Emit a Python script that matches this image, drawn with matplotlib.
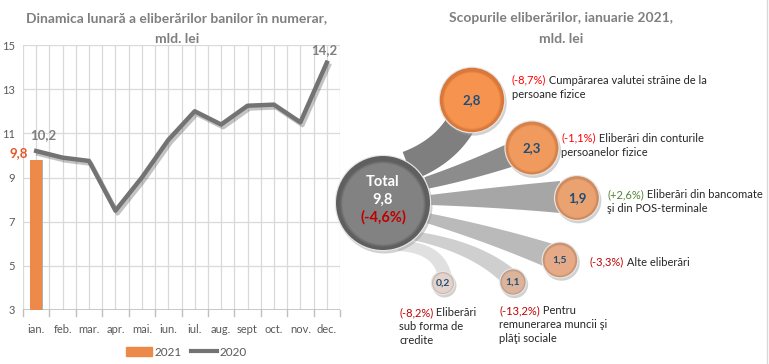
import numpy as np
import matplotlib
matplotlib.use('Agg')
import matplotlib.pyplot as plt
import matplotlib.patheffects as pe
from matplotlib.patches import Circle, Polygon, Rectangle
from matplotlib.lines import Line2D

plt.rcParams['font.family'] = ['Lato', 'DejaVu Sans']

# ---- data ----
months = ['ian.', 'feb.', 'mar.', 'apr.', 'mai.', 'iun.', 'iul.', 'aug.', 'sept', 'oct.', 'nov.', 'dec.']
y2020 = [10.2, 9.9, 9.75, 7.5, 9.0, 10.7, 12.0, 11.4, 12.25, 12.3, 11.5, 14.2]
y2021 = [9.8]

total_value = 9.8
total_change = '(-4,6%)'
purpose_values = [2.8, 2.3, 1.9, 1.5, 1.1, 0.2]
purpose_changes = ['(-8,7%)', '(-1,1%)', '(+2,6%)', '(-3,3%)', '(-13,2%)', '(-8,2%)']
purpose_names = ['Cumpărarea valutei străine de la\npersoane fizice',
                 'Eliberări din conturile\npersoanelor fizice',
                 'Eliberări din bancomate\nşi din POS-terminale',
                 'Alte eliberări',
                 'Pentru\nremunerarea muncii şi\nplăţi sociale',
                 'Eliberări\nsub forma de\ncredite']

W, H = 769, 364
fig = plt.figure(figsize=(W / 100, H / 100), dpi=100)
fig.patch.set_facecolor('white')

grey_txt = '#7f7f7f'
tick_txt = '#595959'

# ---- left chart ----
ax = fig.add_axes([23 / W, 1 - 310 / H, (340 - 23) / W, (310 - 45) / H])
x = np.arange(len(months))
ax.set_xlim(-0.5, len(months) - 0.5)
ax.set_ylim(3, 15)
for gx in np.arange(-0.5, len(months), 0.5):
    ax.axvline(gx, color='#d9d9d9', lw=0.9, zorder=0)
for gy in range(3, 16, 2):
    ax.axhline(gy, color='#d9d9d9', lw=0.9, zorder=0)
for s in ax.spines.values():
    s.set_visible(False)
ax.axhline(3, color='#bfbfbf', lw=1.2, zorder=1)

ax.bar(x[:len(y2021)] + 0.03, y2021, width=0.46, bottom=0, color='#b0b0b0', zorder=2)
ax.bar(x[:len(y2021)], y2021, width=0.44, color='#ed8a4a', zorder=3, label='2021')
ax.plot(x, y2020, color='#737373', lw=3.2, zorder=4, label='2020',
        path_effects=[pe.SimpleLineShadow(offset=(1.5, -2), alpha=0.35, shadow_color='#555555'), pe.Normal()])

ax.set_yticks(range(3, 16, 2))
ax.set_xticks(x)
ax.set_xticklabels(months)
ax.tick_params(axis='y', length=0, pad=6, labelsize=8, labelcolor=tick_txt)
ax.tick_params(axis='x', length=0, pad=10, labelsize=8, labelcolor=tick_txt)
for bx in np.arange(-0.5, len(months), 1):
    ax.plot([bx, bx], [3, 2.75], color='#bfbfbf', lw=1, clip_on=False)

ax.text(0.25, y2020[0] + 0.45, '10,2', color=grey_txt, fontsize=9.5, fontweight='bold',
        ha='center', va='bottom')
ax.text(-0.3, y2021[0] + 0.05, '9,8', color='#e05a2b', fontsize=9.5, fontweight='bold',
        ha='right', va='bottom')
ax.text(10.9, y2020[-1] + 0.3, '14,2', color=grey_txt, fontsize=9.5, fontweight='bold',
        ha='center', va='bottom')

fig.text(177 / W, 1 - 18 / H, 'Dinamica lunară a eliberărilor banilor în numerar,',
         ha='center', va='center', fontsize=10, fontweight='bold', color=grey_txt)
fig.text(177 / W, 1 - 39 / H, 'mld. lei', ha='center', va='center', fontsize=10,
         fontweight='bold', color=grey_txt)

handles = [Rectangle((0, 0), 1, 1, color='#ed8a4a'),
           Line2D([0], [0], color='#737373', lw=3)]
fig.legend(handles, ['2021', '2020'], loc='center', bbox_to_anchor=(186 / W, 1 - 352 / H),
           ncol=2, frameon=False, fontsize=8.5, handlelength=2.2, handletextpad=0.2,
           columnspacing=0.8, labelcolor=tick_txt)

# ---- right chart (pixel coordinates) ----
bx_ax = fig.add_axes([0, 0, 1, 1], zorder=5)
bx_ax.set_xlim(0, W)
bx_ax.set_ylim(H, 0)
bx_ax.axis('off')
bx_ax.patch.set_alpha(0)

fig.text(561 / W, 1 - 18 / H, 'Scopurile eliberărilor, ianuarie 2021,', ha='center',
         va='center', fontsize=10, fontweight='bold', color=grey_txt)
fig.text(561 / W, 1 - 39 / H, 'mld. lei', ha='center', va='center', fontsize=10,
         fontweight='bold', color=grey_txt)


def band(p0, pc, p1, w0, w1, color):
    t = np.linspace(0, 1, 60)[:, None]
    p0, pc, p1 = map(np.array, (p0, pc, p1))
    pts = (1 - t) ** 2 * p0 + 2 * (1 - t) * t * pc + t ** 2 * p1
    d = 2 * (1 - t) * (pc - p0) + 2 * t * (p1 - pc)
    n = np.column_stack([-d[:, 1], d[:, 0]])
    n /= np.linalg.norm(n, axis=1)[:, None]
    w = (w0 + (w1 - w0) * t) / 2
    poly = np.vstack([pts + n * w, (pts - n * w)[::-1]])
    bx_ax.add_patch(Polygon(poly, closed=True, color=color, lw=0, zorder=1))


def bubble(cx, cy, r, base, edge, zorder=3):
    bx_ax.add_patch(Circle((cx + 1.5, cy + 2.5), r + 1, color='#9a9a9a', alpha=0.45, lw=0, zorder=zorder))
    bx_ax.add_patch(Circle((cx, cy), r + 1.2, color='#e6e6e6', lw=0, zorder=zorder))
    bx_ax.add_patch(Circle((cx, cy), r, color=edge, lw=0, zorder=zorder))
    base_rgb = np.array(matplotlib.colors.to_rgb(base))
    edge_rgb = np.array(matplotlib.colors.to_rgb(edge))
    for f in np.linspace(0.93, 0.86, 5):
        k = (0.93 - f) / 0.07
        c = edge_rgb + (base_rgb - edge_rgb) * k
        bx_ax.add_patch(Circle((cx, cy + r * 0.02), r * f, color=np.clip(c, 0, 1), lw=0, zorder=zorder))


# total bubble
tcx, tcy, tr = 383, 203, 47
centers = [(472, 100), (532, 148), (577, 198), (560, 260), (513, 282), (443, 283)]
band_cols = ['#7f7f7f', '#8c8c8c', '#a6a6a6', '#bababa', '#cfcfcf', '#e0e0e0']
band_geo = [((408, 166), (445, 152), (462, 122), 30, 30),
            ((426, 183), (470, 171), (516, 153), 12, 24),
            ((430, 200), (500, 197), (560, 197), 10, 32),
            ((427, 218), (490, 234), (548, 255), 10, 24),
            ((415, 236), (475, 247), (508, 276), 9, 18),
            ((398, 246), (440, 247), (445, 278), 10, 14)]
for (p0, pc, p1, w0, w1), col in zip(band_geo, band_cols):
    band(p0, pc, p1, w0, w1, col)

bubble(tcx, tcy, tr, '#828282', '#5f5f5f', zorder=4)
bx_ax.text(tcx, 182, 'Total', color='white', fontsize=10.5, fontweight='bold', ha='center', va='center', zorder=6)
bx_ax.text(tcx, 200, f'{total_value:.1f}'.replace('.', ','), color='white', fontsize=10.5,
           fontweight='bold', ha='center', va='center', zorder=6)
bx_ax.text(tcx, 217, total_change, color='#c00000', fontsize=10.5, fontweight='bold',
           ha='center', va='center', zorder=6)

bub_base = ['#f6934e', '#f19a5e', '#eaa271', '#e6aa86', '#dcb39b', '#e4d3ca']
bub_edge = ['#d9783a', '#d6834b', '#cf8a5e', '#c99271', '#bf9c86', '#c8b8b0']
chg_cols = ['#ff0000', '#ff0000', '#548235', '#c00000', '#c00000', '#c00000']
label_pos = [(512, 80), (561, 138), (607, 195), (590, 262), (499, 311), (399, 313)]
for i, v in enumerate(purpose_values):
    cx, cy = centers[i]
    r = max(11.0, 11.5 * v)
    bubble(cx, cy, r, bub_base[i], bub_edge[i])
    fs = 9.5 if r > 20 else 7.5
    bx_ax.text(cx, cy, f'{v:.1f}'.replace('.', ','), color='#1f4e79', fontsize=fs,
               fontweight='bold', ha='center', va='center', zorder=6)
    lx, ly = label_pos[i]
    lines = purpose_names[i].split('\n')
    t = bx_ax.text(lx, ly, purpose_changes[i], color=chg_cols[i], fontsize=8,
                   ha='left', va='center', zorder=6)
    bx_ax.annotate(' ' + lines[0], xycoords=t, xy=(1, 0.5), va='center', ha='left',
                   fontsize=8, color='#262626', zorder=6)
    for j, ln in enumerate(lines[1:], start=1):
        bx_ax.text(lx, ly + 14 * j, ln, color='#262626', fontsize=8, ha='left', va='center', zorder=6)

bx_ax.plot([767, 767], [0, H], color='#d9d9d9', lw=1)

fig.savefig('out.png', dpi=100, facecolor='white')
